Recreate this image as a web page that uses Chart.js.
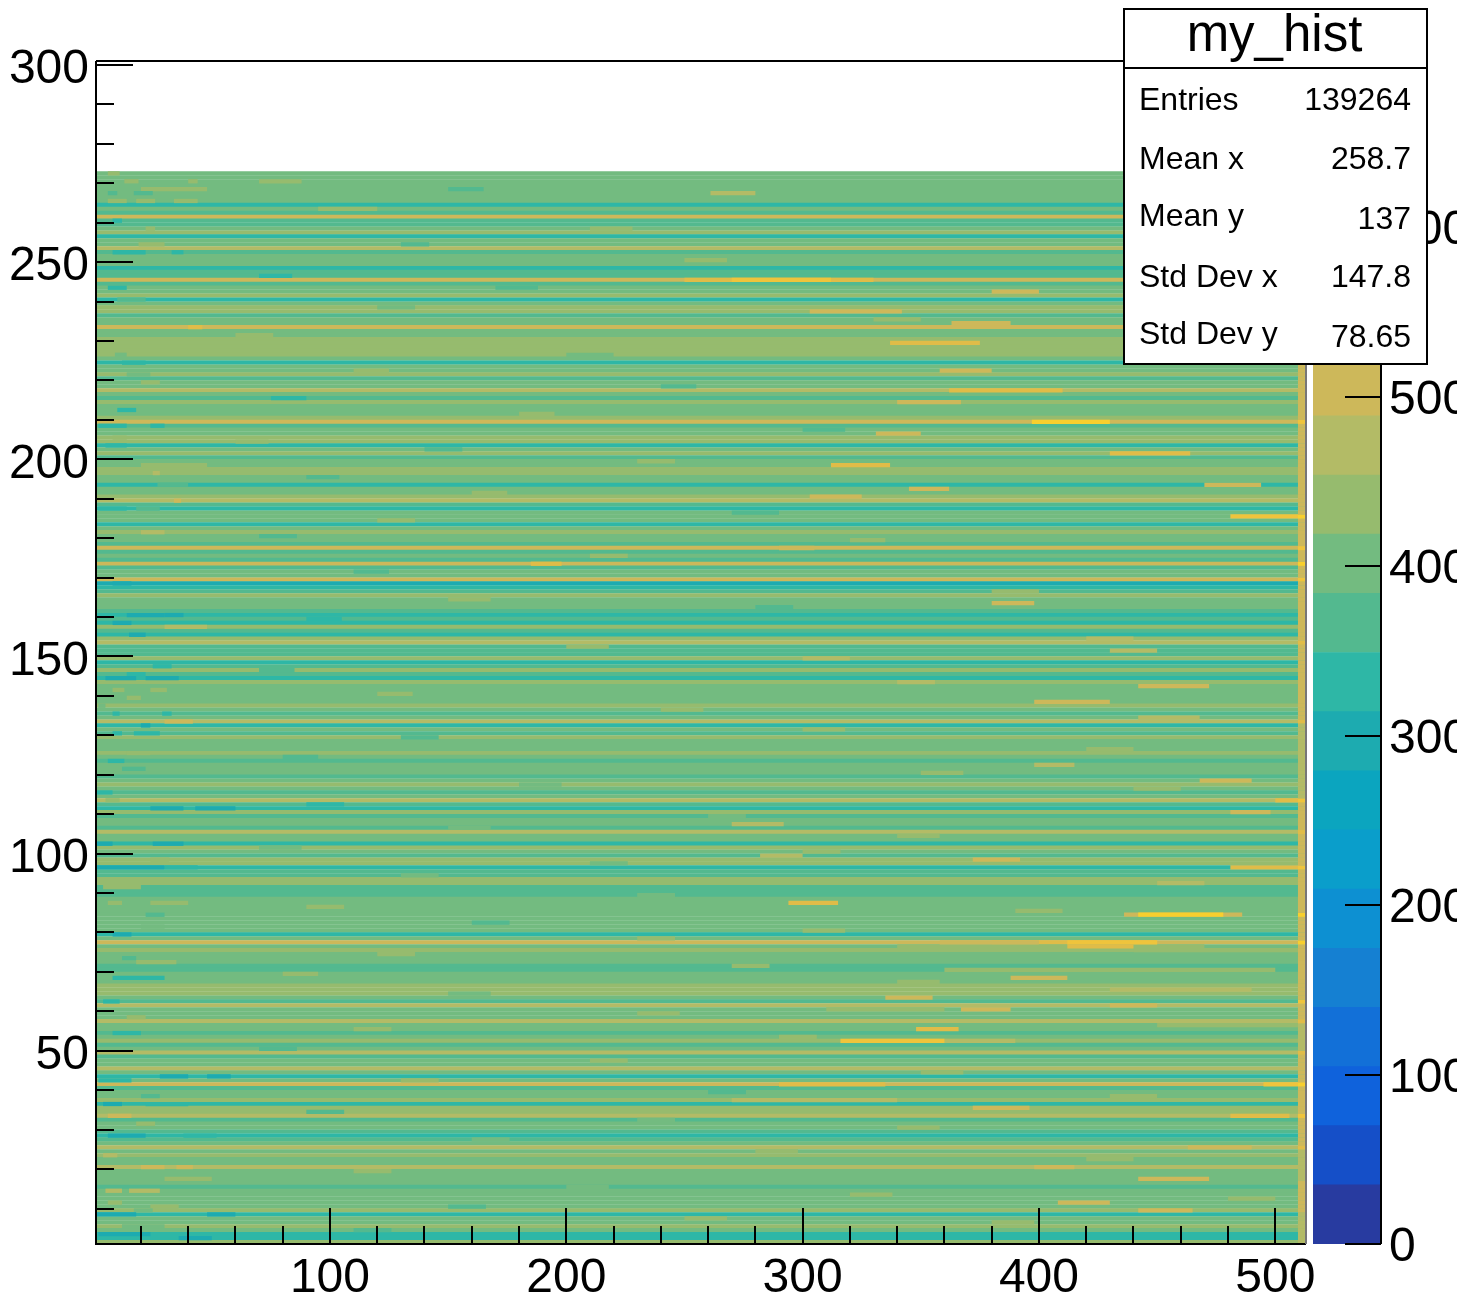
<!DOCTYPE html>
<html>
<head>
<meta charset="utf-8">
<title>my_hist</title>
<script src="https://cdn.jsdelivr.net/npm/chart.js@4"></script>
<style>
  html, body { margin: 0; padding: 0; background: #fff; overflow: hidden; }
  #page { position: relative; width: 1457px; height: 1299px; overflow: hidden; font-family: "Liberation Sans", Arial, sans-serif; }
  canvas { position: absolute; left: 0; top: 0; }
  #stats { position: absolute; left: 1123px; top: 8px; width: 301px; height: 353px; background: #fff; border: 2px solid #000; color: #000; z-index: 5; }
  #stats .rule { position: absolute; left: 0; right: 0; top: 57px; height: 2px; background: #000; }
  #stats span { position: absolute; white-space: nowrap; font-size: 32px; }
  #stats .title { left: -2px; right: 0; text-align: center; font-size: 51px; top: -6px; }
</style>
</head>
<body>
<div id="page">
  <canvas id="hist" width="1457" height="1299"></canvas>
  <canvas id="palette" width="1457" height="1299"></canvas>
  <div id="stats"></div>
</div>
<script>
// ===== Data =====
const histTitle = 'my_hist';
const statLabels = ['Entries', 'Mean x', 'Mean y', 'Std Dev x', 'Std Dev y'];
const statValues = ['139264', '258.7', '137', '147.8', '78.65'];
const xTickValues = [100, 200, 300, 400, 500];
const yTickValues = [50, 100, 150, 200, 250, 300];
const zTickValues = [0, 100, 200, 300, 400, 500, 600];

// typical bin content of each detector row, top row (272) first
const rowCounts = [
  400,400,400,400,400,390,400,400,330,400,365,505,365,365,400,435,330,400,400,470,350,400,400,400,340,350,
  365,505,370,400,400,420,330,390,435,435,360,400,400,505,400,410,435,435,435,435,425,410,330,400,400,450,365,385,400,470,400,365,420,
  400,385,410,420,505,365,400,385,435,420,340,385,435,365,385,415,435,435,400,400,340,400,400,435,455,365,330,400,400,400,330,400,450,
  400,385,365,505,375,400,365,510,365,385,400,505,310,330,365,435,400,400,400,365,330,365,345,440,365,345,420,470,365,365,350,435,345,
  350,420,365,330,435,400,415,385,415,415,435,385,365,385,470,330,385,365,420,385,385,400,420,400,365,400,385,400,365,400,435,400,365,
  385,470,365,330,420,365,385,400,365,470,400,400,330,420,385,365,435,435,330,365,365,435,435,365,365,365,385,415,400,400,385,400,400,
  385,415,345,385,505,385,435,385,415,400,365,365,385,385,400,420,435,435,400,365,470,385,400,385,470,400,400,
  365,415,435,365,400,470,365,400,400,470,400,330,385,505,365,400,400,435,345,420,420,470,365,400,385,
  365,345,365,400,470,385,420,385,400,470,400,400,415,415,365,415,385,385,415,415,435,330,400,400,435,415,330,340,450
];

// [row, x from, x to, content]: warmer or cooler stretches inside a row
const rowPatches = [
  [272,6,11,435],[270,13,19,435],[270,40,44,435],[268,20,48,435],[267,6,10,350],[267,17,25,350],[265,6,14,435],[265,18,26,435],[265,34,44,435],[260,8,12,330],
  [258,22,26,435],[254,19,30,435],[252,8,22,330],[252,33,38,330],[243,6,14,330],[240,10,22,365],[233,40,46,540],[226,9,14,400],[224,12,22,330],[221,14,24,400],
  [219,20,28,435],[212,10,18,330],[208,2,14,330],[208,24,30,330],[205,8,14,435],[203,5,14,330],[198,20,48,435],[196,25,28,470],[193,27,40,365],[189,34,37,505],
  [187,2,14,330],[187,18,28,365],[181,20,30,470],[168,8,16,280],[160,14,30,300],[160,30,38,300],[158,8,16,300],[157,30,48,470],[155,15,22,300],[147,25,33,330],
  [145,14,22,330],[144,5,18,300],[144,22,36,300],[141,8,13,435],[141,24,31,435],[139,14,20,435],[137,2,5,400],[135,8,11,330],[135,29,33,330],[133,30,42,505],
  [132,20,24,280],[130,8,12,330],[130,17,28,330],[125,14,24,435],[123,6,13,330],[121,12,22,365],[115,1,8,330],[113,5,11,435],[111,24,38,300],[111,43,60,300],
  [102,1,8,300],[102,25,38,300],[98,24,32,435],[96,1,30,300],[96,30,44,330],[91,4,20,435],[87,6,12,435],[87,24,40,435],[84,22,30,365],[81,20,30,400],
  [79,8,16,300],[77,380,450,540],[76,340,470,435],[75,440,512,435],[73,12,18,365],[72,18,35,435],[70,360,500,435],[68,8,30,345],[65,430,490,470],[62,4,11,345],
  [60,310,360,435],[58,14,22,435],[56,450,512,435],[54,8,20,345],[52,320,390,470],[43,28,40,300],[43,48,58,300],[42,2,16,330],[38,20,28,365],[36,4,12,300],
  [36,22,40,330],[33,6,16,505],[31,18,26,435],[28,6,22,300],[28,38,52,330],[23,4,10,470],[20,20,30,505],[20,35,42,505],[17,30,50,435],[14,5,12,470],
  [14,15,28,470],[11,6,12,435],[10,24,36,435],[9,17,25,400],[8,1,18,300],[8,48,60,300],[5,12,30,400],[3,2,24,300],[2,36,50,300],
  // mid and right part of the frame
  [270,70,88,435],[268,150,165,365],[263,95,120,435],[258,210,228,435],[254,130,142,365],[250,250,268,435],[246,70,84,330],[243,170,188,365],[238,120,136,400],[235,330,350,435],
  [231,60,76,435],[226,200,220,400],[222,110,125,435],[218,240,255,365],[215,75,90,345],[211,180,195,435],[207,300,318,365],[204,60,74,435],[202,140,156,365],[199,230,246,435],
  [195,90,104,365],[191,160,175,435],[186,270,290,365],[184,120,136,435],[180,70,86,365],[179,320,335,435],[175,210,226,435],[171,110,125,365],[166,380,400,435],[164,150,168,435],
  [162,280,296,365],[159,90,105,330],[154,420,440,470],[152,200,218,435],[149,300,320,470],[146,70,85,365],[143,340,356,470],[140,120,135,435],[136,240,258,435],[131,300,318,435],
  [129,130,146,365],[126,420,440,435],[124,80,95,365],[120,350,368,435],[117,180,198,400],[116,440,460,435],[112,90,106,330],[109,260,276,400],[106,150,168,400],[104,340,358,435],
  [101,70,88,385],[100,300,316,435],[97,210,226,400],[94,130,146,400],[92,450,470,470],[89,230,246,400],[86,90,106,435],[85,390,410,435],[82,160,176,365],[80,300,318,435],
  [78,230,246,435],[74,120,136,435],[71,270,286,435],[69,80,95,435],[67,340,358,435],[64,150,168,400],[61,430,450,505],[59,230,248,435],[55,110,126,435],[53,290,306,435],
  [50,70,86,365],[47,210,226,435],[44,350,368,435],[42,130,146,435],[39,260,276,365],[38,430,450,435],[34,90,106,365],[32,230,246,400],[30,340,358,435],[27,160,176,400],
  [24,280,298,435],[22,420,440,435],[19,110,126,435],[15,200,218,400],[13,320,338,435],[12,480,500,435],[10,150,166,365],[7,250,268,435],[6,380,398,435],[4,110,126,365]
];

// [row, x from, x to, content]: bright streaks
const hotStreaks = [
  [267,261,280,470],[245,250,330,540],[245,270,312,590],[242,380,400,505],[237,303,342,510],[234,363,388,510],[229,337,375,550],[222,358,380,495],[217,362,410,545],[214,340,367,505],
  [209,397,430,625],[206,331,350,515],[201,430,464,545],[198,312,337,545],[193,470,494,510],[192,345,362,500],[190,303,325,500],[185,481,511,590],[177,290,305,495],[173,185,198,545],
  [163,380,398,505],[151,430,450,460],[142,442,472,505],[138,398,430,505],[134,442,468,480],[122,398,415,480],[118,468,490,505],[110,481,498,505],[107,270,292,480],[113,500,512,550],
  [99,282,300,480],[98,372,392,505],[96,481,511,545],[87,294,315,550],[84,436,486,490],[84,442,478,595],[77,358,400,520],[77,412,450,570],[76,412,440,540],[68,388,412,505],
  [63,335,355,505],[60,367,388,505],[55,348,366,540],[52,316,360,590],[41,290,335,545],[41,495,512,590],[35,372,396,510],[33,481,506,550],[25,463,490,510],[20,398,415,490],
  [17,442,472,510],[11,408,430,500],[9,442,465,510],[37,270,340,470]
];

// [row from, row to, content]: last columns at the right edge, bottom to top
const edgeRuns = [
  [1,8,470],[9,16,505],[17,24,470],[25,25,540],[26,32,490],[33,33,590],[34,40,505],[41,41,610],[42,48,490],[49,49,540],
  [50,56,470],[57,57,540],[58,61,505],[62,62,590],[63,76,490],[77,77,620],[78,83,505],[84,84,620],[85,95,490],[96,96,590],
  [97,104,505],[105,105,540],[106,112,490],[113,113,590],[114,132,470],[133,133,540],[134,152,505],[153,153,540],[154,168,490],[169,169,590],
  [170,172,505],[173,173,610],[174,176,490],[177,177,590],[178,184,505],[185,185,610],[186,208,505],[209,209,590],[210,223,505]
];

const paletteColors = [
  '#283ba0','#154fc8','#0f62dc','#1270d8','#1580d2','#0d90d2','#0a9ecb','#0ba5bf','#1dabb0','#2eb7a6',
  '#53b98f','#73bb80','#96bb6e','#b3bb66','#cdb85a','#e0bc48','#efc43c','#f8cf2e','#fbe020','#f9f010'
];
const LEVEL_STEP = 34.9;
const Z_MAX = 698;

// ===== Helpers =====
const FONT = '"Liberation Sans", Arial, sans-serif';
const levelColor = v => paletteColors[Math.min(paletteColors.length - 1, Math.floor(v / LEVEL_STEP))];
const rowCenter = r => r + 0.5;
const setTicks = values => s => { s.ticks = values.map(value => ({ value })); };

function segments(list) {
  return list.map(p => ({ x: [p[1], p[2]], y: rowCenter(p[0]), c: p[3] }));
}

const rowData = rowCounts.map((c, i) => ({ x: [1, 513], y: rowCenter(rowCounts.length - i), c }));
const patchData = segments(rowPatches);
const streakData = segments(hotStreaks);
const edgeData = [];
edgeRuns.forEach(run => {
  for (let r = run[0]; r <= run[1]; r++) edgeData.push({ x: [509.6, 513], y: rowCenter(r), c: run[2] });
});

function heatSet(data, order) {
  return {
    data, order,
    backgroundColor: ctx => levelColor(ctx.raw ? ctx.raw.c : 0),
    borderWidth: 0, borderSkipped: false,
    barPercentage: 1.08, categoryPercentage: 1
  };
}

// ROOT draws its ticks inside the frame
const frameTicks = {
  id: 'frameTicks',
  afterDraw(chart) {
    const { ctx, chartArea: a, scales: { x, y } } = chart;
    ctx.save();
    ctx.strokeStyle = '#000';
    ctx.lineWidth = 2;
    ctx.beginPath();
    for (let v = 10; v <= 300; v += 10) {
      const py = Math.round(y.getPixelForValue(v));
      ctx.moveTo(a.left, py);
      ctx.lineTo(a.left + (v % 50 === 0 ? 37 : 18), py);
    }
    for (let v = 20; v <= 500; v += 20) {
      const px = Math.round(x.getPixelForValue(v));
      ctx.moveTo(px, a.bottom);
      ctx.lineTo(px, a.bottom - (v % 100 === 0 ? 36 : 18));
    }
    ctx.moveTo(a.left, a.top);
    ctx.lineTo(a.right, a.top);
    ctx.moveTo(a.left, a.top);
    ctx.lineTo(a.left, a.bottom);
    ctx.lineTo(a.right, a.bottom);
    ctx.stroke();
    ctx.strokeStyle = '#777';
    ctx.beginPath();
    ctx.moveTo(a.right, a.top);
    ctx.lineTo(a.right, a.bottom);
    ctx.stroke();
    ctx.restore();
  }
};

const paletteTicks = {
  id: 'paletteTicks',
  afterDraw(chart) {
    const { ctx, chartArea: a, scales: { y } } = chart;
    ctx.save();
    ctx.strokeStyle = '#000';
    ctx.lineWidth = 2;
    ctx.beginPath();
    zTickValues.forEach(v => {
      const py = Math.round(y.getPixelForValue(v));
      ctx.moveTo(a.right, py);
      ctx.lineTo(a.right - 36, py);
    });
    ctx.moveTo(a.right, a.top);
    ctx.lineTo(a.right, a.bottom);
    ctx.stroke();
    ctx.restore();
  }
};

// ===== Main histogram =====
new Chart(document.getElementById('hist'), {
  type: 'bar',
  data: {
    datasets: [heatSet(edgeData, 0), heatSet(streakData, 1), heatSet(patchData, 2), heatSet(rowData, 3)]
  },
  options: {
    indexAxis: 'y',
    responsive: false, animation: false, devicePixelRatio: 1,
    grouped: false,
    layout: { padding: { top: 61, right: 151, left: 0, bottom: 0 } },
    plugins: { legend: { display: false }, tooltip: { enabled: false } },
    scales: {
      x: {
        type: 'linear', min: 1, max: 513, position: 'bottom',
        grid: { display: false, drawTicks: false }, border: { display: false },
        afterFit: s => { s.height = 55; },
        afterBuildTicks: setTicks(xTickValues),
        ticks: { autoSkip: false, maxRotation: 0, padding: 6, color: '#000', font: { family: FONT, size: 48 } }
      },
      y: {
        type: 'linear', min: 1, max: 301, position: 'left', offset: false,
        grid: { display: false, drawTicks: false }, border: { display: false },
        afterFit: s => { s.width = 96; },
        afterBuildTicks: setTicks(yTickValues),
        ticks: { autoSkip: false, padding: 7, labelOffset: 5, color: '#000', font: { family: FONT, size: 48 } }
      }
    }
  },
  plugins: [frameTicks]
});

// ===== Colour palette on the right =====
new Chart(document.getElementById('palette'), {
  type: 'bar',
  data: {
    labels: ['z'],
    datasets: paletteColors.map((color, i) => ({
      data: [[i * LEVEL_STEP, (i + 1) * LEVEL_STEP]],
      backgroundColor: color, borderWidth: 0, borderSkipped: false,
      barPercentage: 1, categoryPercentage: 1
    }))
  },
  options: {
    responsive: false, animation: false, devicePixelRatio: 1,
    grouped: false,
    layout: { padding: { top: 61, right: 0, left: 1313, bottom: 55 } },
    plugins: { legend: { display: false }, tooltip: { enabled: false } },
    scales: {
      x: { display: false },
      y: {
        type: 'linear', min: 0, max: Z_MAX, position: 'right',
        grid: { display: false, drawTicks: false }, border: { display: false },
        afterFit: s => { s.width = 76; },
        afterBuildTicks: setTicks(zTickValues),
        ticks: { autoSkip: false, padding: 8, labelOffset: 4, color: '#000', font: { family: FONT, size: 48 } }
      }
    }
  },
  plugins: [paletteTicks]
});

// ===== Stats box =====
const stats = document.getElementById('stats');
const labelBase = [110, 169, 226, 287, 344];
const valueBase = [110, 169, 229, 287, 347];
function addText(text, css, cls) {
  const el = document.createElement('span');
  el.textContent = text;
  if (cls) el.className = cls;
  el.style.cssText = css;
  stats.appendChild(el);
}
addText(histTitle, '', 'title');
stats.appendChild(Object.assign(document.createElement('div'), { className: 'rule' }));
statLabels.forEach((t, i) => addText(t, `left:14px;top:${labelBase[i] - 29 - 10}px`));
statValues.forEach((t, i) => addText(t, `right:15px;top:${valueBase[i] - 29 - 10}px`));
</script>
</body>
</html>
